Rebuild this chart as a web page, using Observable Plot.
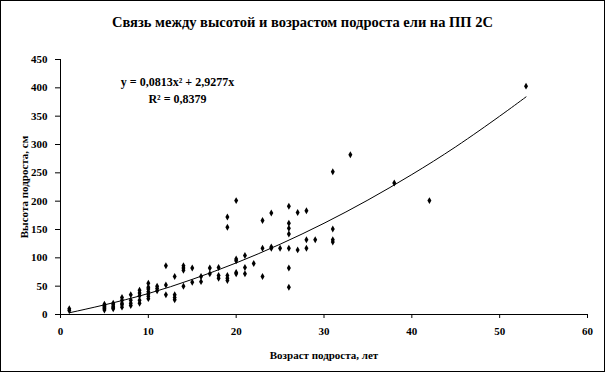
<!DOCTYPE html>
<html><head><meta charset="utf-8">
<script src="https://cdn.jsdelivr.net/npm/d3@7"></script>
<script src="https://cdn.jsdelivr.net/npm/@observablehq/plot@0.6"></script>
<style>
html,body{margin:0;padding:0;background:#fff}
#chart{position:relative;width:603px;height:370px;border:1px solid #000;font-family:"Liberation Serif","Times New Roman",serif;color:#000}
#title{position:absolute;left:0;right:0;top:13px;text-align:center;font-size:14.5px;font-weight:bold;z-index:2}
#chart svg{position:absolute;left:0;top:0}
</style></head><body>
<div id="chart"><div id="title"></div></div>
<script>
const titleText = "Связь между высотой и возрастом подроста ели на ПП 2С";
const xLabel = "Возраст подроста, лет";
const yLabel = "Высота подроста, см";
const equationLines = ["y = 0,0813x² + 2,9277x", "R² = 0,8379"];

const ages = [
  1, 1,
  5, 5, 5, 5, 5, 5,
  6, 6, 6, 6, 6,
  7, 7, 7, 7, 7,
  8, 8, 8, 8,
  9, 9, 9, 9, 9,
  10, 10, 10, 10, 10, 10, 10,
  11, 11, 11,
  12, 12, 12,
  13, 13, 13, 13,
  14, 14, 14, 14,
  15, 15,
  16, 16,
  17, 17,
  18, 18, 18,
  19, 19, 19, 19, 19,
  20, 20, 20, 20, 20,
  21, 21, 21,
  22,
  23, 23, 23,
  24, 24, 24,
  25,
  26, 26, 26, 26, 26, 26, 26,
  27, 27,
  28, 28, 28,
  29,
  31, 31, 31, 31,
  33, 38, 42, 53
];
const heights = [
  7, 10,
  8, 10, 12, 14, 16, 18,
  10, 12, 14, 17, 20,
  13, 17, 20, 25, 30,
  16, 20, 25, 35,
  20, 25, 33, 38, 43,
  28, 32, 36, 40, 45, 48, 55,
  42, 46, 50,
  86, 52, 35,
  67, 35, 30, 26,
  78, 82, 86, 50,
  82, 57,
  67, 58,
  82, 72,
  83, 69, 64,
  172, 154, 69, 64, 60,
  201, 98, 95, 74, 72,
  104, 83, 72,
  90,
  166, 117, 67,
  179, 119, 117,
  117,
  191, 161, 152, 142, 117, 82, 48,
  180, 114,
  183, 132, 117,
  132,
  252, 151, 132, 128,
  282, 232, 201, 403
];

// trend line values
const trendAges = [1, 5, 10, 15, 20, 25, 30, 35, 40, 45, 50, 53];
const trendHeights = [3, 17, 37, 62, 91, 124, 161, 202, 247, 296, 350, 384];

const xTicks = [0, 10, 20, 30, 40, 50, 60];
const yTicks = [0, 50, 100, 150, 200, 250, 300, 350, 400, 450];

document.getElementById("title").textContent = titleText;

const points = ages.map((a, i) => ({age: a, height: heights[i]}));
const trend = trendAges.map((a, i) => ({age: a, height: trendHeights[i]}));

const plot = Plot.plot({
  width: 603, height: 370,
  marginLeft: 59, marginRight: 17, marginTop: 58, marginBottom: 57,
  style: {fontFamily: '"Liberation Serif","Times New Roman",serif', fontSize: "11px", fontWeight: "bold", color: "#000", background: "transparent", overflow: "visible"},
  x: {domain: [0, 60]},
  y: {domain: [0, 450]},
  marks: [
    Plot.axisX({ticks: xTicks, tickSize: 4, tickPadding: 9, label: xLabel, labelAnchor: "center", labelArrow: "none", labelOffset: 44, fill: "#000"}),
    Plot.axisY({ticks: yTicks, tickSize: 5, tickPadding: 8, label: yLabel, labelAnchor: "center", labelArrow: "none", labelOffset: 40, fill: "#000"}),
    Plot.ruleY([0], {stroke: "#000"}),
    Plot.ruleX([0], {stroke: "#000"}),
    Plot.line(trend, {x: "age", y: "height", curve: "natural", stroke: "#000", strokeWidth: 1}),
    Plot.dot(points, {x: "age", y: "height", symbol: "diamond", r: 2.1, fill: "#000", stroke: "none"}),
    Plot.text([equationLines.join("\n")], {frameAnchor: "top-left", dx: 117, dy: 14, textAnchor: "middle", lineAnchor: "top", lineHeight: 1.45, fontSize: 12, fontWeight: "bold", fill: "#000"})
  ]
});
document.getElementById("chart").appendChild(plot);
</script>
</body></html>
